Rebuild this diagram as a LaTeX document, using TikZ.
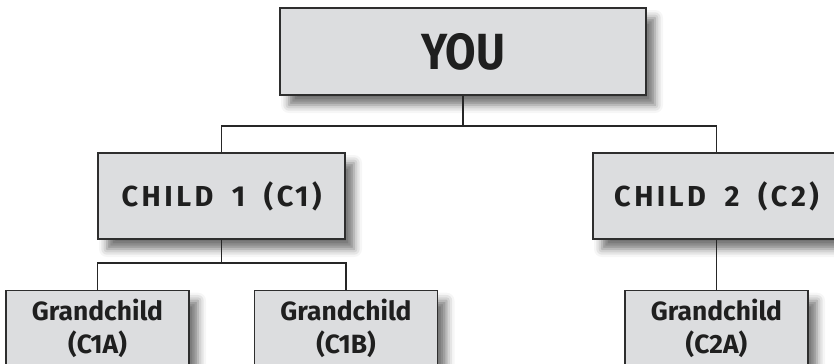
\documentclass[tikz,border=0pt]{standalone}
\usepackage{fontspec}
\setmainfont{Fira Sans}
\newfontfamily\spacedsans[LetterSpace=12,WordSpace=1.8]{Fira Sans}
\usetikzlibrary{shadows.blur}
\definecolor{boxfill}{HTML}{DCDDDF}
\definecolor{boxline}{HTML}{2E2E2E}
\definecolor{wire}{HTML}{262626}
\begin{document}
\begin{tikzpicture}[x=1bp,y=-1bp,
  box/.style={draw=boxline, line width=1.4bp, fill=boxfill, inner sep=0pt,
    align=center, text=black!88,
    blur shadow={shadow xshift=9bp, shadow yshift=-10bp,
      shadow blur radius=8bp, shadow opacity=55}},
  topbox/.style={box, minimum width=366bp, minimum height=87bp,
    font=\fontsize{51}{60}\selectfont\bfseries},
  childbox/.style={box, minimum width=247bp, minimum height=86bp,
    font={\spacedsans\fontsize{29}{33}\selectfont\bfseries}},
  grandbox/.style={box, anchor=north, minimum width=183bp,
    font=\fontsize{26.5}{33}\selectfont\bfseries},
  wire/.style={draw=wire, line width=1.2bp}]
\useasboundingbox (0,0) rectangle (834,363);
\clip (0,0) rectangle (834,363);

% boxes
\node[topbox] (you) at (463,51.5) {\scalebox{0.87}[1]{YOU}};
\node[childbox] (c1) at (221.5,196) {CHILD 1 (C1)};
\node[childbox] (c2) at (716.5,196) {CHILD 2 (C2)};
\node[grandbox] (g1a) at (97.5,290)
  {\rule{0pt}{30bp}Grandchild\\(C1A)\\\rule{0pt}{40bp}};
\node[grandbox] (g1b) at (346,290)
  {\rule{0pt}{30bp}Grandchild\\(C1B)\\\rule{0pt}{40bp}};
\node[grandbox] (g2a) at (716.5,290)
  {\rule{0pt}{30bp}Grandchild\\(C2A)\\\rule{0pt}{40bp}};

% connectors
\coordinate (j0) at (463,126);
\coordinate (j1) at (221.5,263);
\draw[wire] (you.south) -- (j0);
\draw[wire] (c1.north) |- (j0) -| (c2.north);
\draw[wire] (c1.south) -- (j1);
\draw[wire] (g1a.north) |- (j1) -| (g1b.north);
\draw[wire] (c2.south) -- (g2a.north);
\end{tikzpicture}
\end{document}
